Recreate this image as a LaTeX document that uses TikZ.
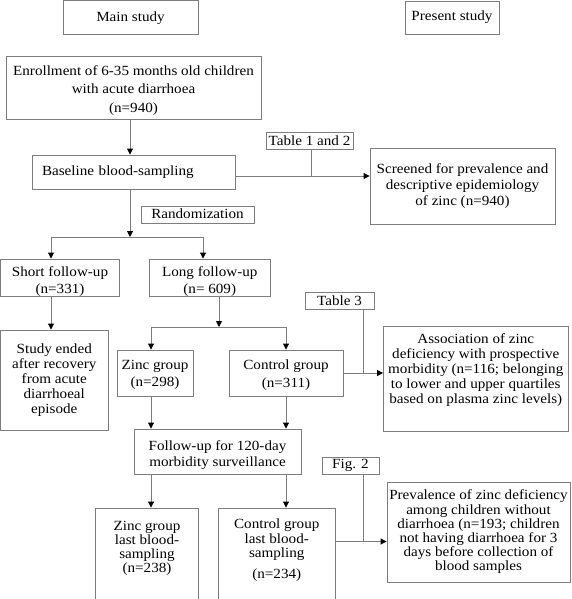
\documentclass[tikz,border=0pt]{standalone}
\usepackage{fontspec}
\setmainfont{Liberation Serif}[FakeStretch=1.08]
\usetikzlibrary{arrows.meta}
\definecolor{ln}{RGB}{125,125,125}
\newcommand{\fsb}[1]{\fontsize{14}{#1}\selectfont}
\tikzset{
  box/.style={draw=ln, line width=0.9pt, inner sep=0pt},
  txt/.style={inner sep=0pt, align=center, font=\fsb{15}},
  conn/.style={draw=ln, line width=0.9pt},
  arr/.style={conn, -{Triangle[length=6pt,width=6pt,color=black]}},
}
% #1 text options, #2 name, #3 x1, #4 y1, #5 x2, #6 y2, #7 text, #8 text offset (down)
\newcommand{\boxat}[8]{%
  \node[box,minimum width={(#5-#3)*1pt},minimum height={(#6-#4)*1pt}] (#2) at ({(#3+#5)/2},{(#4+#6)/2}) {};
  \node[txt,#1] (#2-t) at ({(#3+#5)/2},{(#4+#6)/2+#8}) {#7};}
\begin{document}
\begin{tikzpicture}[x=1pt,y=-1pt]
\useasboundingbox (0,0) rectangle (571,599);
% boxes
\boxat{}{main}{63}{0.5}{198}{34}{Main study}{1}
\boxat{}{present}{405}{1}{499}{34}{Present study}{0}
\boxat{font=\fsb{18.5}}{enroll}{6}{56}{261}{119}{Enrollment of 6-35 months old children\\with acute diarrhoea\\(n=940)}{3}
\boxat{text width=183pt,align=left}{base}{32}{155}{235}{189}{Baseline blood-sampling}{0}
\boxat{}{t12}{266}{132}{353}{149}{Table 1 and 2}{0}
\boxat{font=\fsb{16}}{screen}{370}{148}{555}{224}{Screened for prevalence and\\descriptive epidemiology\\of zinc (n=940)}{0}
\boxat{}{rand}{141}{206}{254}{223}{Randomization}{-1}
\boxat{font=\fsb{17}}{short}{0.5}{259}{119.5}{296}{Short follow-up\\(n=331)}{4}
\boxat{font=\fsb{17}}{long}{149}{259}{270.5}{296}{Long follow-up\\(n= 609)}{4}
\boxat{font=\fsb{15}}{ended}{0.5}{330}{108}{430}{Study ended\\after recovery\\from acute\\diarrhoeal\\episode}{0}
\boxat{font=\fsb{17.5}}{zinc}{117}{350}{193}{396}{Zinc group\\(n=298)}{2}
\boxat{font=\fsb{17.5}}{ctrl}{229}{350}{343}{396}{Control group\\(n=311)}{2}
\boxat{}{t3}{305}{292}{374}{309}{Table 3}{0}
\boxat{font=\fsb{15}}{assoc}{383.5}{326}{568}{431}{Association of zinc\\deficiency with prospective\\morbidity (n=116; belonging\\to lower and upper quartiles\\based on plasma zinc levels)}{-8}
\boxat{font=\fsb{16.5}}{fu}{134}{429}{301}{474}{Follow-up for 120-day\\morbidity surveillance}{3.5}
\boxat{}{f2}{322}{457}{379}{474}{Fig. 2}{0}
\boxat{font=\fsb{14.2}}{zl}{95.5}{508}{198.5}{599}{Zinc group\\last blood-\\sampling\\(n=238)}{-5}
\boxat{font=\fsb{14.5}}{cl}{218.5}{508}{335}{599}{Control group\\last blood-\\sampling\\[6pt](n=234)}{-3.5}
\boxat{font=\fsb{14.2}}{prev}{387}{482}{570}{582}{Prevalence of zinc deficiency\\among children without\\diarrhoea (n=193; children\\not having diarrhoea for 3\\days before collection of\\blood samples}{0}
% junction coordinates
\coordinate (xA) at (130,237);
\coordinate (bL) at (51,237);
\coordinate (bR) at (203,237);
\coordinate (xB) at (219,327);
\coordinate (cL) at (151,327);
\coordinate (cR) at (286,327);
\coordinate (yT12) at (311,176);
\coordinate (yT3) at (363,373);
\coordinate (yF2) at (363,541.5);
% connectors
\draw[arr] (enroll.south -| xA) -- (base.north -| xA);
\draw[arr] (base.south -| xA) -- (xA);
\draw[conn] (bL) -- (bR);
\draw[arr] (bL) -- (short.north -| bL);
\draw[arr] (bR) -- (long.north -| bR);
\draw[arr] (short.south -| bL) -- (ended.north -| bL);
\draw[arr] (long.south -| xB) -- (xB);
\draw[conn] (cL) -- (cR);
\draw[arr] (cL) -- (zinc.north -| cL);
\draw[arr] (cR) -- (ctrl.north -| cR);
\draw[arr] (zinc.south -| cL) -- (fu.north -| cL);
\draw[arr] (ctrl.south -| cR) -- (fu.north -| cR);
\draw[arr] (fu.south -| cL) -- (zl.north -| cL);
\draw[arr] (fu.south -| cR) -- (cl.north -| cR);
\draw[conn] (t12.south -| yT12) -- (yT12);
\draw[arr] (base.east |- yT12) -- (screen.west |- yT12);
\draw[conn] (t3.south -| yT3) -- (yT3);
\draw[arr] (ctrl.east |- yT3) -- (assoc.west |- yT3);
\draw[conn] (f2.south -| yF2) -- (yF2);
\draw[arr] (cl.east |- yF2) -- (prev.west |- yF2);
\end{tikzpicture}
\end{document}
